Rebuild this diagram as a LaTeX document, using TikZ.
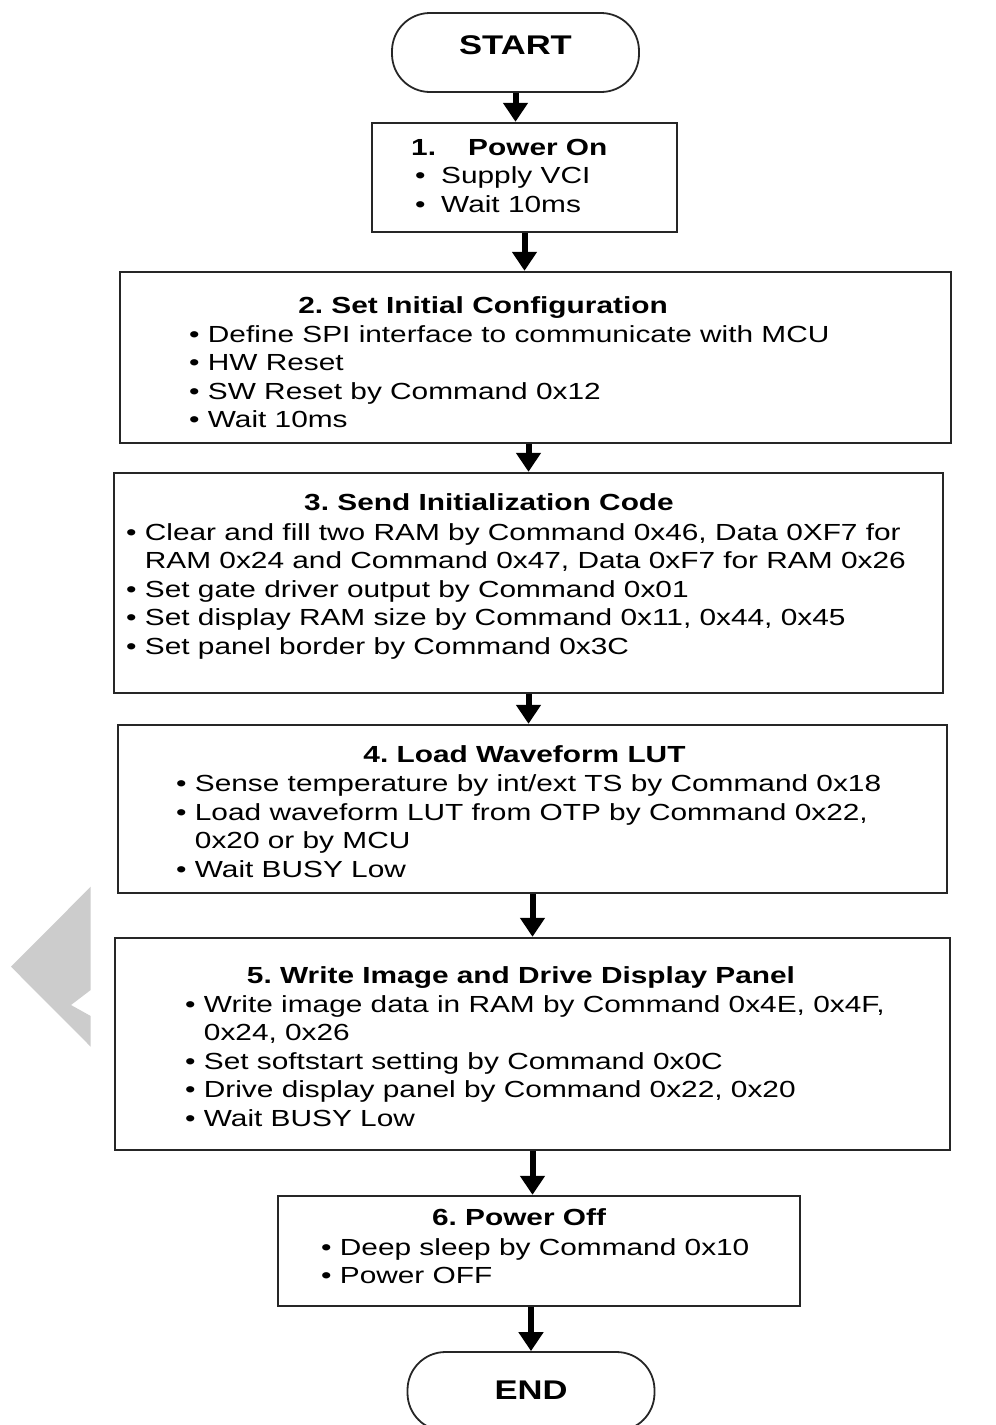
\documentclass[tikz,border=0pt]{standalone}
\usepackage{fontspec}
\setmainfont{Liberation Sans}[FakeStretch=1.28]
\usetikzlibrary{arrows.meta}
\frenchspacing

\newcommand{\contind}{\phantom{• }}

\begin{document}
\begin{tikzpicture}[x=1pt, y=-1pt,
        block/.style={rectangle, draw=black!85, line width=2.4pt, inner sep=0pt},
        term/.style={rectangle, rounded corners=38pt, draw=black!85, line width=1.8pt,
                     minimum width=247pt, minimum height=79pt, inner sep=0pt,
                     font=\fontsize{27}{32}\selectfont\bfseries},
        title/.style={anchor=base, inner sep=0pt, font=\fontsize{23.3}{28.5}\selectfont\bfseries},
        items/.style={anchor=base west, inner sep=0pt, align=left,
                      font=\fontsize{23.3}{28.5}\selectfont},
        line/.style={draw=black, line width=6pt, -{Triangle[width=24pt, length=19pt]}}
    ]
    \useasboundingbox (0,0) rectangle (996,1425);
    \clip (0,0) rectangle (996,1425);

    % watermark
    \fill[black!20] (90.7,886.7) -- (11,966.7) -- (90.7,1046.7) -- (90.7,1016)
        -- (71,1005) -- (90.7,990) -- cycle;

    \node [term, text depth=14.5pt] (start) at (515.5,52.5) {START};

    % item lists sit on the baseline of their last line
    \node [block, minimum width=305pt, minimum height=109pt] (b1) at (524.5,177.5) {};
    \node [items] (l1) at (411,212) {\textbf{\makebox[57pt][l]{1.}Power On}\\
        \hspace*{4pt}\makebox[26pt][l]{•}Supply VCI\\
        \hspace*{4pt}\makebox[26pt][l]{•}Wait 10ms};

    \node [block, minimum width=831pt, minimum height=171pt] (b2) at (535.5,357.5) {};
    \node [title] (t2) at (483,313) {2. Set Initial Configuration};
    \node [items] (l2) at (189,427.5) {• Define SPI interface to communicate with MCU\\
        • HW Reset\\
        • SW Reset by Command 0x12\\
        • Wait 10ms};

    \node [block, minimum width=829pt, minimum height=220pt] (b3) at (528.5,583) {};
    \node [title] (t3) at (489,510) {3. Send Initialization Code};
    \node [items] (l3) at (126,654) {• Clear and fill two RAM by Command 0x46, Data 0XF7 for\\
        \contind RAM 0x24 and Command 0x47, Data 0xF7 for RAM 0x26\\
        • Set gate driver output by Command 0x01\\
        • Set display RAM size by Command 0x11, 0x44, 0x45\\
        • Set panel border by Command 0x3C};

    \node [block, minimum width=829pt, minimum height=168pt] (b4) at (532.5,809) {};
    \node [title] (t4) at (524.5,762) {4. Load Waveform LUT};
    \node [items] (l4) at (176,877) {• Sense temperature by int/ext TS by Command 0x18\\
        • Load waveform LUT from OTP by Command 0x22,\\
        \contind 0x20 or by MCU\\
        • Wait BUSY Low};

    \node [block, minimum width=835pt, minimum height=212pt] (b5) at (532.5,1044) {};
    \node [title] (t5) at (521,983) {5. Write Image and Drive Display Panel};
    \node [items] (l5) at (185,1126) {• Write image data in RAM by Command 0x4E, 0x4F,\\
        \contind 0x24, 0x26\\
        • Set softstart setting by Command 0x0C\\
        • Drive display panel by Command 0x22, 0x20\\
        • Wait BUSY Low};

    \node [block, minimum width=522pt, minimum height=110pt] (b6) at (539,1251) {};
    \node [title] (t6) at (519,1225) {6. Power Off};
    \node [items] (l6) at (321,1283.5) {• Deep sleep by Command 0x10\\
        • Power OFF};

    \node [term, text depth=2.5pt] (end) at (531,1391.5) {END};

    \draw [line] (start) -- (start |- b1.north);
    \draw [line] (b1) -- (b1 |- b2.north);
    \draw [line] (b3 |- b2.south) -- (b3.north);
    \draw [line] (b3) -- (b3 |- b4.north);
    \draw [line] (b4) -- (b4 |- b5.north);
    \draw [line] (b5) -- (b5 |- b6.north);
    \draw [line] (end |- b6.south) -- (end.north);
\end{tikzpicture}
\end{document}
